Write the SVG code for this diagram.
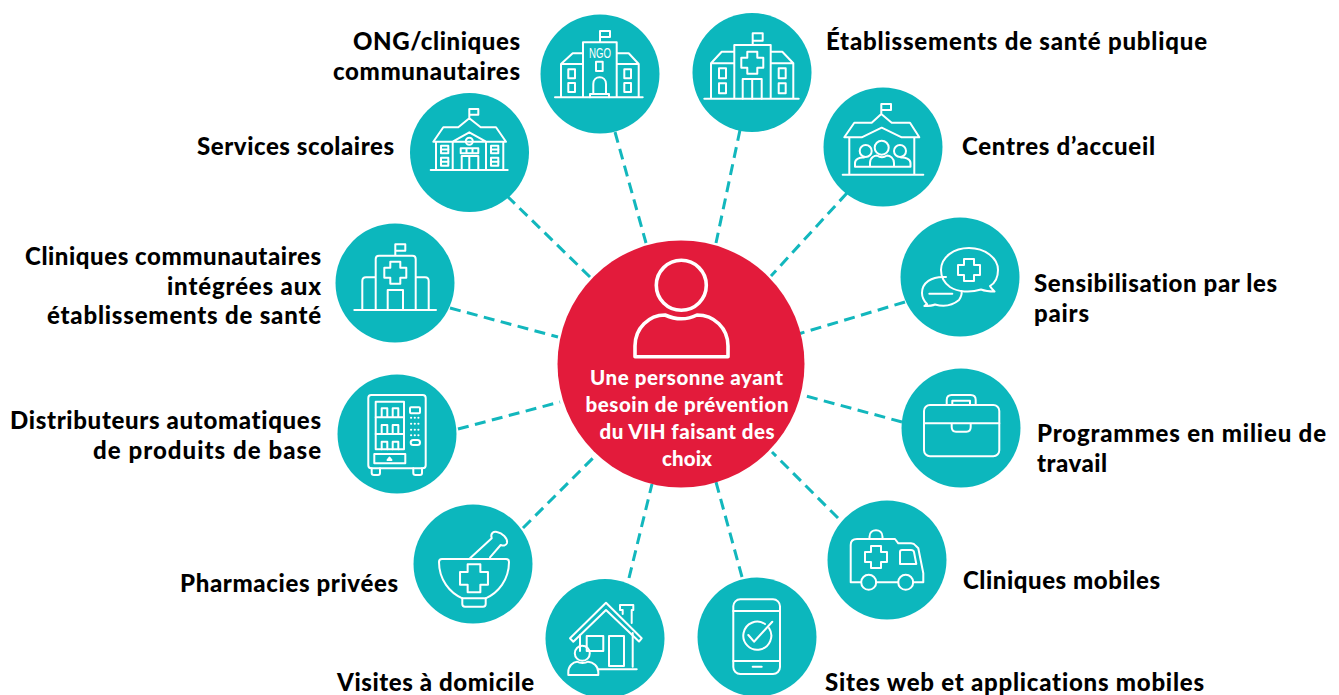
<svg xmlns="http://www.w3.org/2000/svg" width="1339" height="695" viewBox="0 0 1339 695">
<defs>
<style>
.disc{fill:#0cb7bd}
.hub{fill:#e31b3b}
.ic{fill:none;stroke:#fff;stroke-width:2;stroke-linejoin:round;stroke-linecap:round}
.lab{font-family:"Lato","Liberation Sans",sans-serif;font-weight:900;font-size:24px;fill:#000;font-variant-ligatures:none}
.hubt{font-family:"Lato","Liberation Sans",sans-serif;font-weight:900;font-size:20.5px;fill:#fff;text-anchor:middle;font-variant-ligatures:none}
.con{stroke:#12b7bd;stroke-width:3;fill:none;stroke-dasharray:11 6.5}
</style>
<path id="cross" d="M-5-11H5V-5H11V5H5V11H-5V5H-11V-5H-5Z" stroke-linejoin="round"/>
</defs>
<rect width="1339" height="695" fill="#fff"/>
<g id="connectors">
<line class="con" x1="615" y1="132" x2="646" y2="243"/>
<line class="con" x1="740" y1="130" x2="716" y2="243"/>
<line class="con" x1="507" y1="196" x2="590" y2="277"/>
<line class="con" x1="847" y1="193" x2="771" y2="276"/>
<line class="con" x1="905" y1="302" x2="800" y2="333.500"/>
<line class="con" x1="450" y1="308" x2="558" y2="337"/>
<line class="con" x1="458" y1="429" x2="560" y2="402"/>
<line class="con" x1="902" y1="422" x2="806" y2="396"/>
<line class="con" x1="523" y1="528" x2="598" y2="453"/>
<line class="con" x1="838" y1="518" x2="772" y2="452"/>
<line class="con" x1="629" y1="578" x2="652" y2="484"/>
<line class="con" x1="742" y1="577" x2="716" y2="482"/>
</g>
<g id="hub">
<circle class="hub" cx="681" cy="364" r="123.5"/>
<g class="ic" style="stroke-width:3.600">
<circle cx="681.3" cy="285.3" r="25"/>
<path d="M635 356.7V346C635 328 649 315 665 315C676 320 687 320 697 315C714 315 728 328 728 346V356.7Z"/>
</g>
<text class="hubt" x="686.500" y="384.500" textLength="193" lengthAdjust="spacing">Une personne ayant</text>
<text class="hubt" x="687" y="411.500" textLength="203" lengthAdjust="spacing">besoin de prévention</text>
<text class="hubt" x="687" y="438.500" textLength="175" lengthAdjust="spacing">du VIH faisant des</text>
<text class="hubt" x="687" y="465.500" textLength="50" lengthAdjust="spacing">choix</text>
</g>
<g id="node-ong">
<circle class="disc" cx="600" cy="74" r="59.500"/>
<g class="ic">
<path d="M555 97.300H642.700M583 97.300V42.300H616.700V97.300M600 42.300V31H610V37H600M583 64H561V97.300M561 64L572.700 53.300H583M616.700 64H638.700V97.300M638.700 64L628.700 53.300H616.700"/>
<rect x="568.300" y="69.300" width="6.700" height="9"/><rect x="568.300" y="83" width="6.700" height="9"/>
<rect x="624.300" y="69.300" width="6.700" height="9"/><rect x="624.300" y="83" width="6.700" height="9"/>
<rect x="596" y="61.700" width="6.700" height="9.300"/>
<path d="M593.300 94V84C593.300 75 606 75 606 84V94M590 97.300V94H609V97.300"/>
</g>
<text x="600" y="57.500" font-family="Liberation Sans, sans-serif" font-size="14" fill="#fff" text-anchor="middle" textLength="22" lengthAdjust="spacingAndGlyphs">NGO</text>
</g>
<g id="node-public">
<circle class="disc" cx="752" cy="72.500" r="59.500"/>
<g class="ic">
<path d="M704.300 98.700H798.700M734.300 98.700V45H770.700V98.700M752.700 45V33.300H762.700V40.700H752.700M734.300 63.300H711V98.700M711 63.300L721.700 51.700H734.300M770.700 63.300H793.300V98.700M793.300 63.300L782.300 51.700H770.700"/>
<rect x="719" y="68.300" width="7" height="10"/><rect x="719" y="83.300" width="7" height="10"/>
<rect x="778.700" y="68.300" width="7" height="10"/><rect x="778.700" y="83.300" width="7" height="10"/>
<path d="M742.700 98.700V79H761.700V98.700M752.200 79V98.700"/>
<use href="#cross" x="752.300" y="62.700"/>
</g>
</g>
<g id="node-scolaires">
<circle class="disc" cx="469.500" cy="152.500" r="59.500"/>
<g class="ic">
<path d="M430.700 170H507.700M469.300 118.300V109H478.300V114.700H469.300M433.300 141.700L443.300 127.300H458.300L469.300 118.300L480.700 127.300H496L506 141.700ZM436 141.700V170M503.300 141.700V170M452.700 141.700V170M486 141.700V170M452.700 141.700L469.300 132.300L486 141.700"/>
<circle cx="469.300" cy="141.300" r="3.500"/>
<path d="M460.700 148.300H478.300V153.300H460.700ZM466.500 148.300V153.300M472.500 148.300V153.300M461.700 170V156H478.300V170M469.300 156V170"/>
<rect x="441" y="145.700" width="7.300" height="7.600"/><rect x="441" y="157.700" width="7.300" height="8"/>
<rect x="491" y="145.700" width="7.300" height="7.600"/><rect x="491" y="157.700" width="7.300" height="8"/>
<path d="M441 149.500H448.300M441 161.700H448.300M491 149.500H498.300M491 161.700H498.300"/>
</g>
</g>
<g id="node-accueil">
<circle class="disc" cx="883" cy="147" r="59.500"/>
<g class="ic">
<path d="M842.700 174.700H923.300M881.300 114V104H891V110H881.300M844.300 137.300L854.300 122.700H871.700L881.300 114L891.700 122.700H910L919.300 137.300H901.700L881.700 127.700L861.700 137.300ZM849.300 137.300V174.700M914.300 137.300V174.700"/>
<circle cx="881.700" cy="147.700" r="7"/><circle cx="865.700" cy="151" r="6"/><circle cx="900" cy="151" r="6"/>
<path d="M870 166.700V163C870 157 875 155.500 877 155.500C880 157.500 884 157.500 887 155.500C890 155.500 894 158 894 163V166.700ZM870 166.700H855V163C855 159 860 157 864 157.500M894 166.700H910.500V163C910.500 159 905 157 901 157.500"/>
</g>
</g>
<g id="node-pairs">
<circle class="disc" cx="960" cy="277" r="59.500"/>
<g class="ic">
<path d="M950 287C943 282 941 276 941 270C941 257 954 248 969 248C985 248 998 258 998 270C998 277 995 283 990 286C991 288 993 290 994.500 291.500C989 291.500 985 291 981 289.500C970 293 958 292 950 287Z"/>
<path d="M946 277C931 276 922 283 922 293C922 298 924 301 927 304C926 305 925 305.500 924.300 306C928 306 932 306 935 304.500C944 307 953 305 959 300C961 297 962 293 961.500 291"/>
<path d="M929.300 293.700H952.300"/>
<use href="#cross" x="969" y="270"/>
</g>
</g>
<g id="node-integrees">
<circle class="disc" cx="395" cy="283" r="59.500"/>
<g class="ic">
<path d="M354.300 310H436M375.700 310V259Q375.700 255.700 379 255.700H412.400Q415.700 255.700 415.700 259V310M395.300 255.700V244.300H405.300V250.700H395.300M375.700 277.300H366Q362.300 277.300 362.300 281V310M415.700 277.300H425Q428.700 277.300 428.700 281V310M387.700 310V290H403V310"/>
<use href="#cross" x="395.300" y="272.700"/>
</g>
</g>
<g id="node-distributeurs">
<circle class="disc" cx="397" cy="434" r="59.500"/>
<g class="ic">
<rect x="368.300" y="395" width="57.400" height="73.300" rx="3"/>
<path d="M371.700 468.300V473Q371.700 475 374 475H378Q380 475 380 473V468.300M413.300 468.300V473Q413.300 475 415.500 475H420Q422 475 422 473V468.300"/>
<rect x="375.700" y="401.700" width="28.300" height="47.600"/>
<path d="M375.700 417.300H404M375.700 434H404M381.700 417.300V408.300H387.300V417.300M392.700 417.300V408.300H398.300V417.300M381.700 434V425H387.300V434M392.700 434V425H398.300V434M381.700 449.300V441.700H387.300V449.300M392.700 449.300V441.700H398.300V449.300"/>
<rect x="374.300" y="454" width="31" height="9.300"/>
<path d="M387.500 460H391.500L389.500 457.500Z"/>
<rect x="410" y="407.300" width="10" height="6" rx="1"/>
<rect x="410.700" y="440" width="9.300" height="5" rx="2.500"/>
<path d="M411 417.700H411.200M414.700 417.700H414.900M418.300 417.700H418.500M411 423.700H411.200M414.700 423.700H414.900M418.300 423.700H418.500M411 429.700H411.200M414.700 429.700H414.900M418.300 429.700H418.500M411 435.300H411.200M414.700 435.300H414.900M418.300 435.300H418.500"/>
</g>
</g>
<g id="node-travail">
<circle class="disc" cx="961" cy="428" r="59.500"/>
<g class="ic">
<rect x="924" y="405" width="75.300" height="51.300" rx="6"/>
<path d="M924 423.300H999.300M946.700 405V400Q946.700 395 951.700 395H970.700Q975.700 395 975.700 400V405M952.300 405V400.700H970V405M951.700 423.300V427Q951.700 431.700 956 431.700H966.500Q970.700 431.700 970.700 427V423.300"/>
</g>
</g>
<g id="node-mobiles">
<circle class="disc" cx="887" cy="560" r="59.500"/>
<g class="ic">
<path d="M861 582.300H850.700V545Q850.700 539 857 539H895L898.300 543.300H911Q914 543.300 916 546L918.300 548.300L923.300 573.300V582.300H913.200M898.200 582.300H876.200"/>
<circle cx="868.700" cy="582.300" r="7.500"/><circle cx="905.700" cy="582.300" r="7.500"/>
<path d="M869.500 539V536.700C869.500 528 882.500 528 882.500 536.700V539"/>
<use href="#cross" x="876" y="557"/>
<path d="M900 552Q900 550 902 550H911Q913.500 550 914 552L916.300 564H900Z"/>
</g>
</g>
<g id="node-pharmacies">
<circle class="disc" cx="473" cy="564" r="59.500"/>
<g class="ic">
<path d="M439 562Q439 559 442 559H506Q509 559 509 562C509 580 498 593 485.700 598.300H462.300C450 593 439 580 439 562Z"/>
<path d="M462.300 598.300V604Q462.300 606.700 465 606.700H483Q485.700 606.700 485.700 604V598.300"/>
<path d="M470 558.300L491.700 538.300C490 533 494 531 497 532C502 533 508 538 507 543C506 546 503 546 500.700 545L490 557.300"/>
<g transform="translate(474 578.300) scale(1.270)" style="stroke-width:1.600"><use href="#cross"/></g>
</g>
</g>
<g id="node-domicile">
<circle class="disc" cx="605" cy="638.500" r="59.500"/>
<g class="ic">
<path d="M570 638.300L606 602.700L641.700 638.300L639 641.500L606 610L573.300 641.700Z"/>
<path d="M622.700 614V610H620V605H633.300V610H631.700V623M580 635V651M632.700 633V666.700M598.300 669.300H636.700"/>
<rect x="586.700" y="636" width="16.600" height="15"/>
<path d="M609 666V636H624V666H609"/>
<circle cx="582.300" cy="653.300" r="7.500"/>
<path d="M568.300 675V672C568.300 666 573 662 577 661.700C580 663.500 585 663.500 588 661.700C593 662 598.300 666 598.300 672V675Z"/>
</g>
</g>
<g id="node-sites">
<circle class="disc" cx="757" cy="637" r="59.500"/>
<g class="ic">
<rect x="733.300" y="599.300" width="46.700" height="74.700" rx="7"/>
<path d="M733.300 611H780M733.300 661H780M752.700 666.700H761.700"/>
<path d="M769 628A14 14 0 1 1 765 624"/>
<path d="M748.300 635L754 641.700L772.300 621.700"/>
</g>
</g>
<g id="labels">
<text class="lab" x="353" y="50" textLength="167" lengthAdjust="spacing">ONG/cliniques</text>
<text class="lab" x="333" y="80" textLength="187" lengthAdjust="spacing">communautaires</text>
<text class="lab" x="826" y="50" textLength="381" lengthAdjust="spacing">Établissements de santé publique</text>
<text class="lab" x="197" y="155" textLength="197" lengthAdjust="spacing">Services scolaires</text>
<text class="lab" x="962" y="155" textLength="193" lengthAdjust="spacing">Centres d’accueil</text>
<text class="lab" x="25" y="265" textLength="296" lengthAdjust="spacing">Cliniques communautaires</text>
<text class="lab" x="167" y="295" textLength="154" lengthAdjust="spacing">intégrées aux</text>
<text class="lab" x="47" y="324" textLength="274" lengthAdjust="spacing">établissements de santé</text>
<text class="lab" x="1034" y="292" textLength="243" lengthAdjust="spacing">Sensibilisation par les</text>
<text class="lab" x="1034" y="322" textLength="55" lengthAdjust="spacing">pairs</text>
<text class="lab" x="10" y="429" textLength="311" lengthAdjust="spacing">Distributeurs automatiques</text>
<text class="lab" x="93" y="459" textLength="228" lengthAdjust="spacing">de produits de base</text>
<text class="lab" x="1037" y="442" textLength="289" lengthAdjust="spacing">Programmes en milieu de</text>
<text class="lab" x="1037" y="472" textLength="70" lengthAdjust="spacing">travail</text>
<text class="lab" x="180" y="592" textLength="218" lengthAdjust="spacing">Pharmacies privées</text>
<text class="lab" x="963" y="589" textLength="197" lengthAdjust="spacing">Cliniques mobiles</text>
<text class="lab" x="337" y="691" textLength="197" lengthAdjust="spacing">Visites à domicile</text>
<text class="lab" x="825" y="691" textLength="379" lengthAdjust="spacing">Sites web et applications mobiles</text>
</g>
</svg>
